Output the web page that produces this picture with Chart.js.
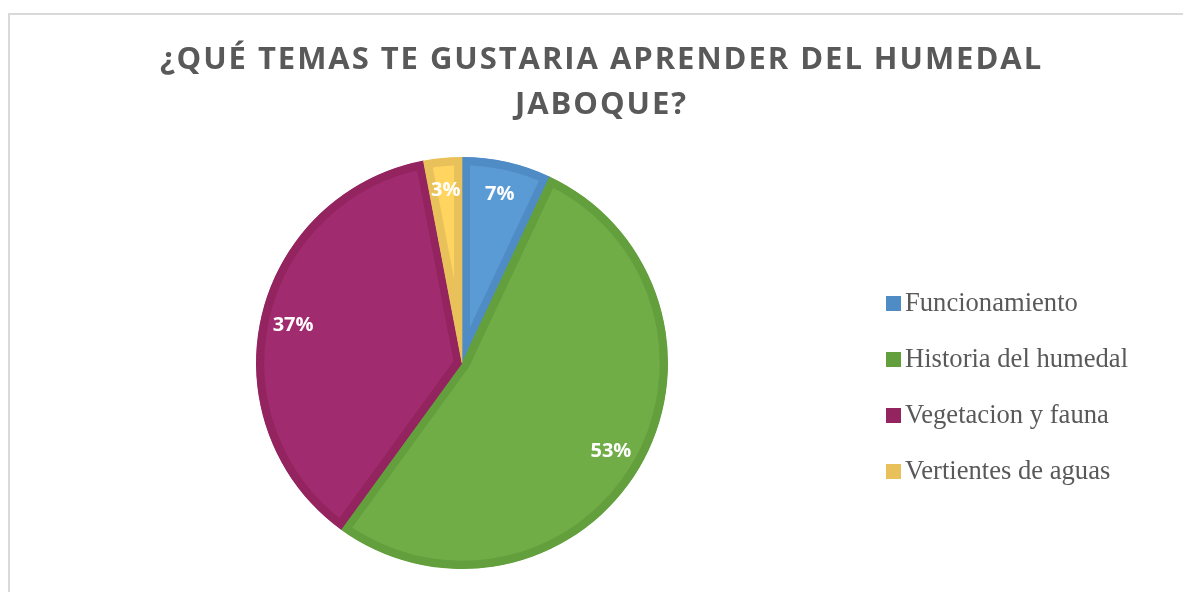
<!DOCTYPE html>
<html>
<head>
<meta charset="utf-8">
<script src="https://cdn.jsdelivr.net/npm/chart.js@4"></script>
<style>
  html, body { margin: 0; padding: 0; background: #fff; overflow: hidden; }
  #wrap { position: relative; width: 1183px; height: 592px; }
  #frame { position: absolute; left: 8px; top: 13px; width: 1300px; height: 700px;
           border-left: 2px solid #d9d9d9; border-top: 2px solid #d9d9d9; }
  #title { position: absolute; left: 20px; top: 35px; width: 1163px; margin: 0; text-align: center;
           font-family: "Open Sans", sans-serif; font-weight: 700; font-size: 31px; line-height: 45px;
           letter-spacing: 1.95px; color: #595959; }
  #pieChart { position: absolute; left: 0; top: 0; }
  #legend { position: absolute; left: 886px; top: 274px; margin: 0; padding: 0; list-style: none;
            font-family: "Liberation Serif", "Times New Roman", serif; font-size: 26.6px; color: #595959; }
  #legend li { height: 56px; line-height: 56px; white-space: nowrap; }
  #legend span { display: inline-block; width: 15px; height: 15px; margin-right: 4px; }
</style>
</head>
<body>
<div id="wrap">
  <div id="frame"></div>
  <canvas id="pieChart" width="1183" height="592"></canvas>
  <h1 id="title"></h1>
  <ul id="legend"></ul>
</div>
<script>
  // --- data ---
  const categories = ["Funcionamiento", "Historia del humedal", "Vegetacion y fauna", "Vertientes de aguas"];
  const percentages = [7, 53, 37, 3];
  const titleLines = ["¿QUÉ TEMAS TE GUSTARIA APRENDER DEL HUMEDAL", "JABOQUE?"];

  const fillColors = ["#5b9bd5", "#70ad47", "#a12b6f", "#ffd55f"];
  const edgeColors = ["#4f8bc4", "#63a03d", "#93245f", "#e8c15a"];

  // white percentage labels near the rim of each slice
  const sliceLabels = {
    id: "sliceLabels",
    afterDatasetsDraw(chart) {
      const ctx = chart.ctx;
      const meta = chart.getDatasetMeta(0);
      ctx.save();
      ctx.font = "bold 20px 'Open Sans'";
      ctx.fillStyle = "#ffffff";
      ctx.textAlign = "center";
      ctx.textBaseline = "middle";
      meta.data.forEach(function (arc, i) {
        const p = arc.getProps(["x", "y", "startAngle", "endAngle", "outerRadius"], true);
        const mid = (p.startAngle + p.endAngle) / 2;
        const r = p.outerRadius * 0.84;
        ctx.fillText(percentages[i] + "%", p.x + Math.cos(mid) * r, p.y + Math.sin(mid) * r);
      });
      ctx.restore();
    },
  };

  new Chart(document.getElementById("pieChart"), {
    type: "pie",
    data: {
      labels: categories,
      datasets: [
        {
          data: percentages,
          backgroundColor: fillColors,
          borderColor: edgeColors,
          borderWidth: 8,
          borderAlign: "inner",
          hoverOffset: 0,
        },
      ],
    },
    options: {
      responsive: false,
      animation: false,
      layout: { padding: { left: 20, right: 279, top: 157, bottom: 23 } },
      plugins: {
        legend: { display: false },
        tooltip: { enabled: false },
        title: { display: false },
      },
    },
    plugins: [sliceLabels],
  });

  // title and legend as page text around the canvas
  document.getElementById("title").innerHTML = titleLines.join("<br>");

  const legendEl = document.getElementById("legend");
  categories.forEach(function (name, i) {
    const li = document.createElement("li");
    const box = document.createElement("span");
    box.style.background = edgeColors[i];
    li.appendChild(box);
    li.appendChild(document.createTextNode(name));
    legendEl.appendChild(li);
  });
</script>
</body>
</html>
